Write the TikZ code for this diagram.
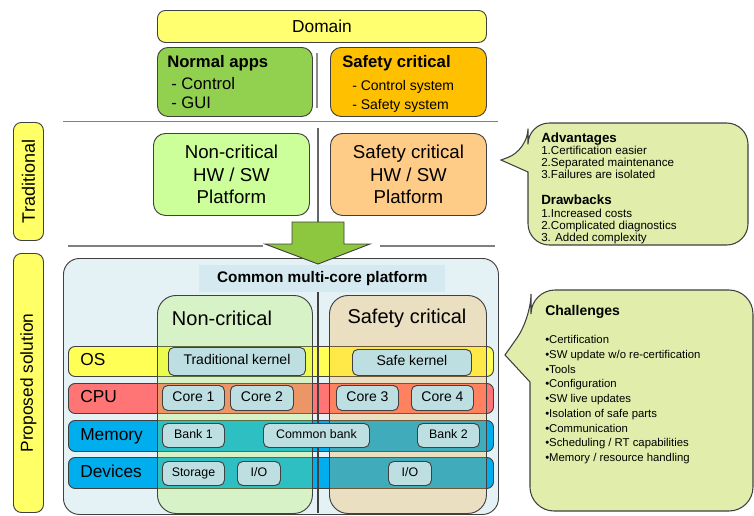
\documentclass[tikz,border=0pt]{standalone}
\usepackage{fontspec}
\setmainfont{Liberation Sans}
\definecolor{domY}{HTML}{FFFF70}
\definecolor{labY}{HTML}{FFFF66}
\definecolor{appG}{HTML}{92D050}
\definecolor{safO}{HTML}{FFC000}
\definecolor{ncG}{HTML}{CCFF99}
\definecolor{scO}{HTML}{FFCC88}
\definecolor{arrG}{HTML}{8DC63F}
\definecolor{platB}{HTML}{E4F2F6}
\definecolor{titB}{HTML}{D5EAF0}
\definecolor{osY}{HTML}{FFFF55}
\definecolor{cpuR}{HTML}{FF7575}
\definecolor{memB}{HTML}{00AEEE}
\definecolor{colG}{HTML}{B7F541}
\definecolor{colO}{HTML}{FFAA23}
\definecolor{inB}{HTML}{BDDFE2}
\definecolor{callG}{HTML}{E1EDAA}
\definecolor{edge}{HTML}{404040}
\begin{document}
\begin{tikzpicture}[x=0.75pt,y=-0.75pt,
  box/.style={draw=edge, line width=0.7pt, rounded corners=6pt, inner sep=0pt, anchor=north west},
  sz/.style 2 args={minimum width=#1*0.75pt, minimum height=#2*0.75pt},
  fs/.style 2 args={font=\fontsize{#1}{#2}\selectfont},
  fsb/.style 2 args={font=\fontsize{#1}{#2}\selectfont\bfseries},
  txt/.style={inner sep=0pt, anchor=west, text height=0.72em, text depth=0pt},
  inbox/.style={box, fill=inB, rounded corners=4pt, text height=0.72em, text depth=0.2em},
  hline/.style={draw=black!50, line width=1.3pt},
  vline/.style={draw=black!60, line width=1pt},
  callout/.style={draw=edge, line width=0.8pt, fill=callG}]
\useasboundingbox (0,0) rectangle (754,515);

% top: domain
\node[box, fill=domY, sz={329}{32}, fs={13}{15}] (domain) at (157,10) {Domain};
\node[box, fill=appG, sz={155}{69}, rounded corners=8pt] (normal) at (157,47) {};
\node[txt, fsb={12.5}{14}] (normalT) at (167,63) {Normal apps};
\node[txt, fs={12.5}{14}] (normal1) at (171,85) {- Control};
\node[txt, fs={12.5}{14}] (normal2) at (171,104) {- GUI};
\node[box, fill=safO, sz={156}{69}, rounded corners=8pt] (safety) at (330,47) {};
\node[txt, fsb={12.5}{14}] (safetyT) at (342,63) {Safety critical};
\node[txt, fs={10.5}{12}] (safety1) at (352,86) {- Control system};
\node[txt, fs={10.5}{12}] (safety2) at (352,105) {- Safety system};
\draw[draw=black!45, line width=1.6pt] (317,53) -- (317,108);
\draw[hline] (63,121.5) -- (498,121.5);

% traditional
\node[box, fill=labY, sz={30}{118}] (trad) at (13,122) {};
\node[rotate=90, fs={13.5}{15}] (tradT) at (trad.center) {Traditional};
\node[box, fill=ncG, sz={156}{82}, rounded corners=9pt, align=center, fs={14}{17}] (nchw) at (153,133) {Non-critical\\HW / SW\\Platform};
\node[box, fill=scO, sz={156}{82}, rounded corners=9pt, align=center, fs={14}{17}] (schw) at (330,133) {Safety critical\\HW / SW\\Platform};
\draw[vline] (318,128) -- (318,222);
\draw[hline] (68,246) -- (263,246);
\draw[hline] (380,246) -- (495,246);

% callout 1
\draw[callout, rounded corners=16pt] (528,172) -- (528,245) -- (748,245) -- (748,123) -- (528,123) -- (528,150) [sharp corners] -- (501,160) -- cycle;
\node[txt, fsb={10}{12}] (adv) at (541,138) {Advantages};
\node[txt, fs={8.7}{10}] (adv1) at (541,150) {1.Certification easier};
\node[txt, fs={8.7}{10}] (adv2) at (541,162) {2.Separated maintenance};
\node[txt, fs={8.7}{10}] (adv3) at (541,174) {3.Failures are isolated};
\node[txt, fsb={10}{12}] (drw) at (541,200) {Drawbacks};
\node[txt, fs={8.7}{10}] (drw1) at (541,213) {1.Increased costs};
\node[txt, fs={8.7}{10}] (drw2) at (541,225) {2.Complicated diagnostics};
\node[txt, fs={8.7}{10}] (drw3) at (541,237) {3. Added complexity};

% proposed
\node[box, fill=labY, sz={30}{259}] (prop) at (13,253) {};
\node[rotate=90, fs={13}{15}] (propT) at (prop.center) {Proposed solution};
\node[box, fill=platB, rounded corners=12pt, sz={435}{256}] (plat) at (63,258) {};
\node[fill=titB, sz={246}{27}, anchor=north west, inner sep=0pt, fsb={11.5}{13}] (ptitle) at (199,265) {Common multi-core platform};

% arrow
\draw[draw=edge, line width=0.7pt, fill=arrG] (292,222) -- (344,222) -- (344,244) -- (370,244) -- (318,264) -- (265,244) -- (292,244) -- cycle;

% rows
\node[box, fill=osY, sz={425}{30}, rounded corners=5pt] (os) at (68,346) {};
\node[box, fill=cpuR, sz={425}{30}, rounded corners=5pt] (cpu) at (68,383) {};
\node[box, fill=memB, sz={425}{31}, rounded corners=5pt] (mem) at (68,420) {};
\node[box, fill=memB, sz={425}{31}, rounded corners=5pt] (dev) at (68,457) {};
\node[txt, fs={13}{15}] (osL) at (80,361) {OS};
\node[txt, fs={13}{15}] (cpuL) at (80,398) {CPU};
\node[txt, fs={13}{15}] (memL) at (80,435.5) {Memory};
\node[txt, fs={13}{15}] (devL) at (80,472.5) {Devices};

% columns
\node[box, fill=colG, fill opacity=0.25, rounded corners=14pt, sz={155}{218}] (ncol) at (157,295) {};
\node[box, fill=colO, fill opacity=0.25, rounded corners=14pt, sz={157}{218}] (scol) at (329,295) {};
\node[fs={15}{17}] (ncolT) at (222,318) {Non-critical};
\node[fs={15}{17}] (scolT) at (407,318) {Safety critical};
\draw[draw=edge, line width=0.8pt] (318,292) -- (318,513);

% inner boxes
\node[inbox, sz={137}{28}, fs={10.5}{12}] (tk) at (168,347) {Traditional kernel};
\node[inbox, sz={119}{26}, fs={10.5}{12}] (sk) at (352,349) {Safe kernel};
\node[inbox, sz={62}{25}, fs={10.5}{12}] (c1) at (162,385) {Core 1};
\node[inbox, sz={63}{25}, fs={10.5}{12}] (c2) at (230,385) {Core 2};
\node[inbox, sz={62}{25}, fs={10.5}{12}] (c3) at (336,385) {Core 3};
\node[inbox, sz={62}{25}, fs={10.5}{12}] (c4) at (411,385) {Core 4};
\node[inbox, sz={62}{24}, fs={9.3}{11}] (b1) at (162,423) {Bank 1};
\node[inbox, sz={106}{24}, fs={9.3}{11}] (cb) at (263,423) {Common bank};
\node[inbox, sz={62}{24}, fs={9.3}{11}] (b2) at (417,423) {Bank 2};
\node[inbox, sz={62}{24}, fs={9.3}{11}] (st) at (162,461) {Storage};
\node[inbox, sz={43}{24}, fs={9.3}{11}] (io1) at (237,461) {I/O};
\node[inbox, sz={43}{24}, fs={9.3}{11}] (io2) at (388,461) {I/O};

% callout 2
\draw[callout, rounded corners=18pt] (530,382) -- (530,511) -- (753,511) -- (753,290) -- (531,290) -- (531,318) [sharp corners] -- (505,355) -- cycle;
\node[txt, fsb={10.5}{12}] (chal) at (545,311) {Challenges};
\node[txt, fs={8.5}{10}] (ch1) at (545,339) {•Certification};
\node[txt, fs={8.5}{10}] (ch2) at (545,354) {•SW update w/o re-certification};
\node[txt, fs={8.5}{10}] (ch3) at (545,369) {•Tools};
\node[txt, fs={8.5}{10}] (ch4) at (545,383) {•Configuration};
\node[txt, fs={8.5}{10}] (ch5) at (545,398) {•SW live updates};
\node[txt, fs={8.5}{10}] (ch6) at (545,413) {•Isolation of safe parts};
\node[txt, fs={8.5}{10}] (ch7) at (545,428) {•Communication};
\node[txt, fs={8.5}{10}] (ch8) at (545,442) {•Scheduling / RT capabilities};
\node[txt, fs={8.5}{10}] (ch9) at (545,457) {•Memory / resource handling};
\end{tikzpicture}
\end{document}
